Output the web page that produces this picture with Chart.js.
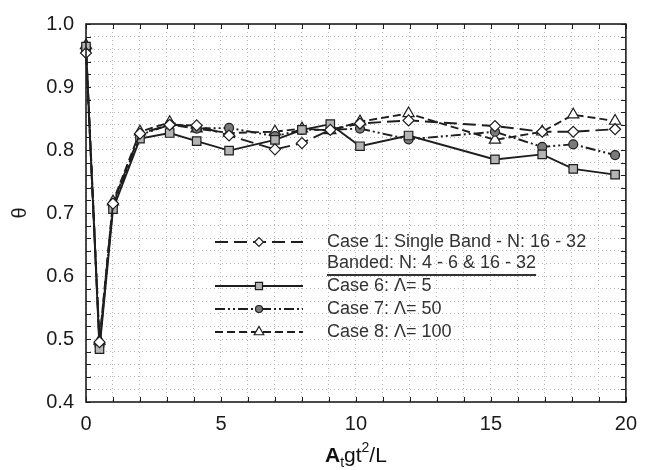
<!DOCTYPE html>
<html>
<head>
<meta charset="utf-8">
<script src="https://cdn.jsdelivr.net/npm/chart.js@4.4.1/dist/chart.umd.min.js"></script>
<style>
  html, body { margin: 0; padding: 0; background: #fff; }
</style>
</head>
<body>
<canvas id="plot" width="647" height="470"></canvas>
<script>
// x positions (A_t g t^2 / L) shared by all four cases
const xValues = [0, 0.5, 1, 2, 3.1, 4.1, 5.3, 7, 8, 9.05, 10.15, 11.95, 15.15, 16.9, 18.05, 19.6];

// theta for each case
const case1 = [0.954, 0.495, 0.715, 0.826, 0.840, 0.839, 0.823, 0.801, 0.811, 0.832, 0.842, 0.847, 0.838, 0.829, 0.829, 0.833];
const case6 = [0.964, 0.484, 0.706, 0.818, 0.827, 0.814, 0.799, 0.816, 0.832, 0.841, 0.806, 0.823, 0.785, 0.793, 0.770, 0.761];
const case7 = [0.960, 0.490, 0.712, 0.824, 0.840, 0.834, 0.835, 0.822, 0.832, 0.832, 0.834, 0.817, 0.829, 0.805, 0.809, 0.792];
const case8 = [0.966, 0.497, 0.718, 0.829, 0.844, 0.834, 0.827, 0.829, 0.834, 0.831, 0.845, 0.858, 0.816, 0.829, 0.856, 0.846];

const seriesNames = ['Case 1: Single Band - N: 16 - 32', 'Case 6: \u039B= 5', 'Case 7: \u039B= 50', 'Case 8: \u039B= 100'];
const bandedHeading = 'Banded: N: 4 - 6 & 16 - 32';

const xTickLabels = [0, 5, 10, 15, 20];
const yTickLabels = [0.4, 0.5, 0.6, 0.7, 0.8, 0.9, 1.0];

const FONT = "'Liberation Sans', Arial, sans-serif";
const INK = '#1e1e1e';

function pts(ys) {
    return xValues.map((x, i) => ({ x: x, y: ys[i] }));
}

const styles = [
    { dash: [13, 6], point: 'rectRot', radius: 5.5, fill: '#ffffff' },       // case 1
    { dash: [], point: 'rect', radius: 6, fill: '#b4b4b4' },                  // case 6
    { dash: [10, 3, 2, 3, 2, 3], point: 'circle', radius: 4.5, fill: '#7a7a7a' }, // case 7
    { dash: [8, 4], point: 'triangle', radius: 6.5, fill: '#ffffff' }         // case 8
];

const values = [case1, case6, case7, case8];

const datasets = values.map((ys, i) => ({
    label: seriesNames[i],
    data: pts(ys),
    borderColor: INK,
    borderWidth: 1.9,
    borderDash: styles[i].dash,
    pointStyle: styles[i].point,
    pointRadius: styles[i].radius,
    pointBackgroundColor: styles[i].fill,
    pointBorderColor: INK,
    pointBorderWidth: 1.2,
    tension: 0,
    fill: false,
    clip: 10
}));

// frame, inward ticks, legend and x title
const decorations = {
    id: 'decorations',
    afterDraw(chart) {
        const ctx = chart.ctx;
        const a = chart.chartArea;
        const xs = chart.scales.x, ys = chart.scales.y;
        ctx.save();

        // inner ticks
        ctx.strokeStyle = INK;
        ctx.lineWidth = 1;
        ctx.setLineDash([]);
        ctx.beginPath();
        xs.ticks.forEach(t => {
            const px = Math.round(xs.getPixelForValue(t.value)) + 0.5;
            ctx.moveTo(px, a.bottom); ctx.lineTo(px, a.bottom - 5);
            ctx.moveTo(px, a.top); ctx.lineTo(px, a.top + 5);
        });
        ys.ticks.forEach(t => {
            const py = Math.round(ys.getPixelForValue(t.value)) + 0.5;
            ctx.moveTo(a.left, py); ctx.lineTo(a.left + 5, py);
            ctx.moveTo(a.right, py); ctx.lineTo(a.right - 5, py);
        });
        ctx.stroke();

        // frame
        ctx.lineWidth = 1.6;
        ctx.strokeRect(a.left, a.top, a.right - a.left, a.bottom - a.top);

        // legend
        const lineX0 = 215, lineX1 = 303, markX = 259, textX = 327;
        const rows = [242, 286, 309, 332];
        ctx.font = '18px ' + FONT;
        ctx.textBaseline = 'middle';
        ctx.textAlign = 'left';
        values.forEach((_, i) => {
            const y = rows[i];
            ctx.strokeStyle = INK;
            ctx.lineWidth = 1.8;
            ctx.setLineDash(styles[i].dash);
            ctx.beginPath();
            ctx.moveTo(lineX0, y); ctx.lineTo(lineX1, y);
            ctx.stroke();
            ctx.setLineDash([]);
            ctx.fillStyle = styles[i].fill;
            ctx.strokeStyle = INK;
            ctx.lineWidth = 1.2;
            Chart.helpers.drawPoint(ctx, { pointStyle: styles[i].point, radius: styles[i].radius - 1, borderWidth: 1.2, rotation: 0 }, markX, y);
            ctx.fillStyle = '#333';
            ctx.fillText(seriesNames[i], textX, y);
        });
        ctx.fillStyle = '#333';
        ctx.fillText(bandedHeading, textX, 263);
        const w = ctx.measureText(bandedHeading).width;
        ctx.fillStyle = '#333';
        ctx.fillRect(textX, 274, w, 2);

        // x axis title: A_t g t^2 / L
        const parts = [
            { t: 'A', font: 'bold 21px ' + FONT, dy: 0 },
            { t: 't', font: '14px ' + FONT, dy: 5 },
            { t: 'gt', font: '21px ' + FONT, dy: 0 },
            { t: '2', font: '14px ' + FONT, dy: -10 },
            { t: '/L', font: '21px ' + FONT, dy: 0 }
        ];
        let total = 0;
        parts.forEach(p => { ctx.font = p.font; p.w = ctx.measureText(p.t).width; total += p.w; });
        let x = (a.left + a.right) / 2 - total / 2;
        const base = 462;
        ctx.fillStyle = '#111';
        ctx.textBaseline = 'alphabetic';
        parts.forEach(p => {
            ctx.font = p.font;
            ctx.fillText(p.t, x, base + p.dy);
            x += p.w;
        });
        ctx.restore();
    }
};

new Chart(document.getElementById('plot').getContext('2d'), {
    type: 'line',
    data: { datasets: datasets },
    options: {
        responsive: false,
        animation: false,
        devicePixelRatio: 1,
        layout: { padding: { top: 19, right: 16, left: 0, bottom: 0 } },
        plugins: { legend: { display: false }, tooltip: { enabled: false } },
        scales: {
            x: {
                type: 'linear',
                min: 0, max: 20,
                grid: { color: '#b8b8b8', lineWidth: 1, drawTicks: false },
                border: { display: false, dash: [1, 3] },
                ticks: {
                    stepSize: 1,
                    autoSkip: false,
                    maxRotation: 0,
                    padding: 10,
                    color: '#1a1a1a',
                    font: { family: FONT, size: 20 },
                    callback: v => xTickLabels.includes(v) ? String(v) : ''
                },
                afterFit: s => { s.height = 68; }
            },
            y: {
                min: 0.4, max: 1.0,
                grid: { color: '#b8b8b8', lineWidth: 1, drawTicks: false },
                border: { display: false, dash: [1, 3] },
                ticks: {
                    stepSize: 0.02,
                    autoSkip: false,
                    padding: 12,
                    color: '#1a1a1a',
                    font: { family: FONT, size: 20 },
                    callback: v => {
                        const hit = yTickLabels.find(t => Math.abs(t - v) < 1e-6);
                        return hit !== undefined ? hit.toFixed(1) : '';
                    }
                },
                title: {
                    display: true,
                    text: '\u03B8',
                    color: '#1a1a1a',
                    font: { family: FONT, size: 20 },
                    padding: { top: 8, bottom: 0 }
                },
                afterFit: s => { s.width = 86; }
            }
        }
    },
    plugins: [decorations]
});
</script>
</body>
</html>
